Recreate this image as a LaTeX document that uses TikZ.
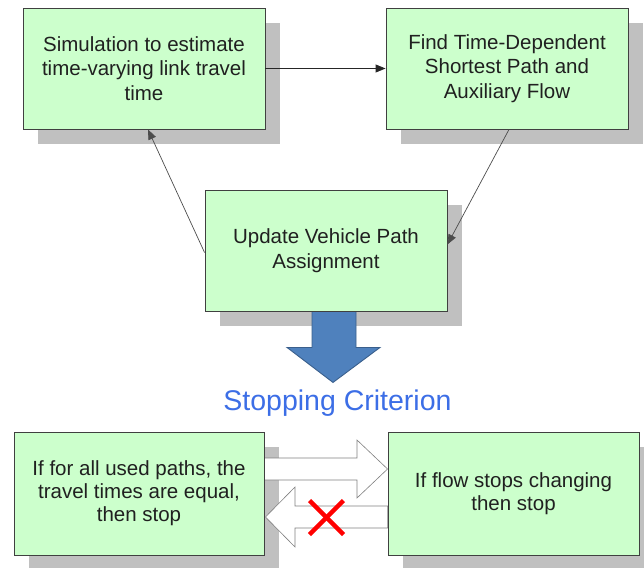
\documentclass[tikz,border=0pt]{standalone}
\usepackage{fontspec}
\setmainfont{Liberation Sans}
\usetikzlibrary{calc,arrows.meta}
\pgfdeclarelayer{background}
\pgfsetlayers{background,main}
\definecolor{boxfill}{HTML}{CCFFCC}
\definecolor{boxline}{HTML}{404040}
\definecolor{shadowc}{HTML}{C0C0C0}
\definecolor{bluefill}{HTML}{4F81BD}
\definecolor{blueline}{HTML}{3A5F8C}
\definecolor{titleblue}{RGB}{60,110,230}
\definecolor{textc}{HTML}{202020}
\begin{document}
\begin{tikzpicture}[x=1pt,y=-1pt,
  procbox/.style={draw=boxline,line width=0.9pt,fill=boxfill,inner sep=0pt,
    minimum width=#1,align=center,text=textc,
    font=\fontsize{20.5}{24.5}\selectfont},
  procbox/.default=242pt,
  conn/.style={line width=0.7pt,draw=black!70,-{Triangle[length=10pt,width=8pt]}},
  hollow/.style={fill=white,draw=black!50,line width=0.6pt},
  crossline/.style={draw=red,line width=4.5pt}
]
\useasboundingbox (0,0) rectangle (644,567);
% boxes
\node[procbox, minimum height=121pt] (b1) at (144,68.5) {Simulation to estimate\\time-varying link travel\\time};
\node[procbox, minimum height=121pt] (b2) at (507,68.5) {Find Time-Dependent\\Shortest Path and\\Auxiliary Flow};
\node[procbox, minimum height=121pt] (b3) at (326,250.5) {Update Vehicle Path\\Assignment};
\node[procbox=250pt, minimum height=123pt, font=\fontsize{20.5}{23}\selectfont] (b4) at (139,493.5) {If for all used paths, the\\travel times are equal,\\then stop};
\node[procbox=251pt, minimum height=123pt, font=\fontsize{20.5}{23}\selectfont] (b5) at (513.5,493.5) {If flow stops changing\\then stop};
\begin{pgfonlayer}{background}
% shadows
\foreach \n in {b1,b2,b3,b4,b5}{
  \fill[shadowc] ($(\n.north west)+(15,15)$) rectangle ($(\n.south east)+(15,15)$);
}
% blue block arrow
\draw[fill=bluefill,draw=blueline,line width=0.9pt]
  ($(b3.south)+(-14,0)$) -- ($(b3.south)+(30,0)$) -- ($(b3.south)+(30,36)$)
  -- ($(b3.south)+(54,36)$) -- ($(b3.south)+(7,71)$) -- ($(b3.south)+(-39,36)$)
  -- ($(b3.south)+(-14,36)$) -- cycle;
% hollow arrows
\draw[hollow] (b4.east |- 0,458) -- (357,458) -- (357,440) -- (b5.west |- 0,469)
  -- (357,498) -- (357,480) -- (b4.east |- 0,480) -- cycle;
\draw[hollow] (b5.west |- 0,506) -- (295,506) -- (295,487) -- ($(b4.east)+(1,23.5)$)
  -- (295,547) -- (295,528) -- (b5.west |- 0,528) -- cycle;
\end{pgfonlayer}
% red cross
\coordinate (xc) at (326.5,517.5);
\draw[crossline] ($(xc)+(-17,-17)$) -- ($(xc)+(17,17)$);
\draw[crossline] ($(xc)+(17,-17)$) -- ($(xc)+(-17,17)$);
% connectors
\draw[conn,draw=black!85,line width=0.9pt] (b1.east) -- (b2.west);
\draw[conn] ($(b3.west)+(0,2)$) -- ($(b1.south)+(4,0)$);
\draw[conn] ($(b2.south)+(2,0)$) -- ($(b3.east)+(0,-6)$);
% title
\node[anchor=base,text=titleblue,font=\fontsize{28.5}{34}\selectfont,inner sep=0pt] (title) at (337.5,410) {Stopping Criterion};
\end{tikzpicture}
\end{document}
